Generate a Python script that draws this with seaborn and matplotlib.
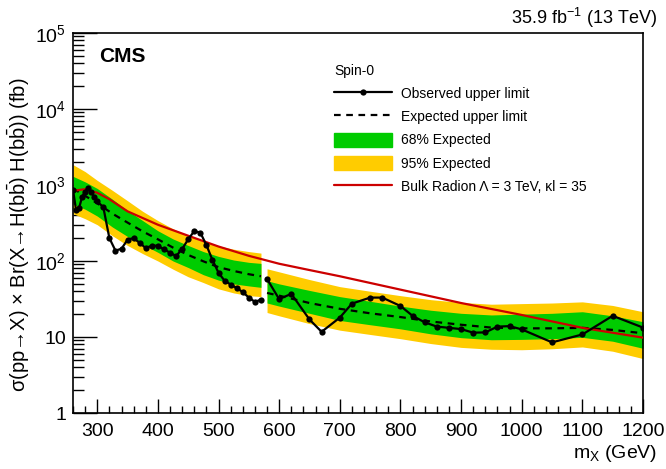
import numpy as np
import pandas as pd
import matplotlib
matplotlib.use("Agg")
import matplotlib.pyplot as plt
import seaborn as sns
from matplotlib.lines import Line2D
from matplotlib.patches import Patch
from matplotlib.ticker import MultipleLocator, LogLocator, NullFormatter

# ---------------- data ----------------
# Observed upper limit, low-mass segment
obs1_x = [260, 265, 270, 275, 280, 285, 290, 295, 300, 310, 320, 330, 340, 350, 360, 370, 380,
          390, 400, 410, 420, 430, 440, 450, 460, 470, 480, 490, 500, 510, 520, 530, 540, 550, 560, 570]
obs1_y = [870, 470, 495, 700, 820, 910, 800, 700, 610, 510, 200, 137, 145, 191, 200, 173, 148,
          159, 159, 142, 129, 116, 144, 193, 248, 236, 162, 103, 70, 55, 49, 44, 39, 33, 29, 31]
# Observed upper limit, high-mass segment
obs2_x = [580, 600, 620, 650, 670, 700, 720, 750, 770, 800, 820, 840, 860, 880, 900, 920, 940,
          960, 980, 1000, 1050, 1100, 1150, 1200]
obs2_y = [58, 31.5, 37, 17, 11.7, 18, 27.5, 33, 33, 25.6, 19, 15.6, 13.7, 13.2, 12.7, 11.4, 11.5,
          13.7, 13.9, 12.6, 8.5, 10.8, 19.0, 13.3]

# Expected limit and bands, low-mass segment
band1_x = [260, 280, 300, 325, 350, 375, 400, 425, 450, 475, 500, 525, 550, 570]
exp1 = [900, 720, 575, 420, 320, 245, 193, 150, 120, 99, 83, 74, 67, 63]
g_hi1 = [1300, 1100, 900, 650, 460, 340, 250, 195, 160, 133, 115, 103, 96, 93]
g_lo1 = [560, 480, 390, 280, 210, 165, 130, 100, 82, 66, 56, 50, 47, 45]
y_hi1 = [1850, 1500, 1150, 850, 620, 450, 340, 265, 215, 180, 158, 143, 133, 127]
y_lo1 = [420, 360, 300, 215, 160, 125, 100, 78, 62, 52, 43, 38, 35, 34]

# Expected limit and bands, high-mass segment
band2_x = [580, 600, 650, 700, 750, 800, 850, 900, 950, 1000, 1050, 1100, 1150, 1200]
exp2 = [38, 35, 28, 23.5, 20.5, 18.3, 16, 14.5, 13.3, 13, 13, 13.2, 12.4, 11.2]
g_hi2 = [55, 50, 41, 34, 29.5, 25.5, 22.5, 20.5, 19.5, 20, 20.5, 21.5, 19, 15.9]
g_lo2 = [28, 25.5, 20.5, 16.5, 14.5, 12.8, 11, 9.8, 9.2, 9.3, 9.5, 9.9, 8.8, 7.1]
y_hi2 = [79, 72, 57, 46, 40, 35, 31, 28.5, 27, 27.5, 28, 29, 26, 21.5]
y_lo2 = [21, 19, 15, 12.3, 10.8, 9.5, 8.2, 7.3, 6.9, 6.8, 7.0, 7.4, 6.5, 5.2]

# Bulk radion theory curve
radion_x = [260, 280, 300, 320, 350, 400, 450, 500, 550, 600, 650, 700, 800, 900, 1000, 1100, 1200]
radion_y = [840, 880, 790, 650, 450, 300, 215, 155, 117, 92, 76, 63, 42, 28, 19.5, 13.2, 9.8]

y_tick_vals = [1, 10, 100, 1e3, 1e4, 1e5]
y_tick_labels = ["1", "10", r"10$^{2}$", r"10$^{3}$", r"10$^{4}$", r"10$^{5}$"]
x_tick_vals = [300, 400, 500, 600, 700, 800, 900, 1000, 1100, 1200]

legend_labels = ["Observed upper limit", "Expected upper limit", "68% Expected",
                 "95% Expected", "Bulk Radion \u039b = 3 TeV, \u03bal = 35"]

# ---------------- style ----------------
sns.set_style("ticks")
plt.rcParams['font.family'] = ['Liberation Sans', 'DejaVu Sans']
plt.rcParams['mathtext.fontset'] = 'custom'
plt.rcParams['mathtext.rm'] = 'Liberation Sans'
plt.rcParams['mathtext.it'] = 'Liberation Sans:italic'
plt.rcParams['mathtext.bf'] = 'Liberation Sans:bold'
for k in ['text.color', 'axes.labelcolor', 'xtick.color', 'ytick.color', 'axes.edgecolor']:
    plt.rcParams[k] = 'black'

GREEN = "#00cc00"
YELLOW = "#ffcc00"
RED = "#cc0000"

fig = plt.figure(figsize=(6.66, 4.69), dpi=100)
ax = fig.add_axes([73 / 666, 1 - 413 / 469, 570 / 666, 380 / 469])
ax.set_yscale('log')

# bands
for bx, ylo, yhi, glo, ghi in [(band1_x, y_lo1, y_hi1, g_lo1, g_hi1),
                               (band2_x, y_lo2, y_hi2, g_lo2, g_hi2)]:
    ax.fill_between(bx, ylo, yhi, color=YELLOW, lw=0, zorder=1)
    ax.fill_between(bx, glo, ghi, color=GREEN, lw=0, zorder=2)

# expected
for bx, ex in [(band1_x, exp1), (band2_x, exp2)]:
    sns.lineplot(x=bx, y=ex, ax=ax, color="black", lw=1.6, estimator=None, sort=False, zorder=3)
    ax.lines[-1].set_dashes((3, 2.5))

# radion
sns.lineplot(x=radion_x, y=radion_y, ax=ax, color=RED, lw=1.6, estimator=None, sort=False, zorder=4)

# observed
for ox, oy in [(obs1_x, obs1_y), (obs2_x, obs2_y)]:
    sns.lineplot(x=ox, y=oy, ax=ax, color="black", lw=1.6, marker="o", markersize=4.5,
                 markeredgewidth=0, estimator=None, sort=False, zorder=5)

ax.set_xlim(260, 1200)
ax.set_ylim(1, 1e5)

# ticks
ax.set_xticks(x_tick_vals)
ax.xaxis.set_minor_locator(MultipleLocator(20))
ax.set_yticks(y_tick_vals)
ax.set_yticklabels(y_tick_labels)
ax.yaxis.set_minor_locator(LogLocator(base=10, subs=np.arange(2, 10)))
ax.yaxis.set_minor_formatter(NullFormatter())
ax.tick_params(axis='x', which='major', direction='in', length=10, width=1, labelsize=14, pad=7,
               top=False)
ax.tick_params(axis='x', which='minor', direction='in', length=5, width=1, top=False)
ax.tick_params(axis='y', which='major', direction='in', length=17, width=1, labelsize=14, pad=5,
               right=False)
ax.tick_params(axis='y', which='minor', direction='in', length=8, width=1, right=False)
for s in ax.spines.values():
    s.set_visible(True)
    s.set_linewidth(1.2)
    s.set_color("black")

ax.set_xlabel("")
ax.set_ylabel("\u03c3(pp\u2192X) \u00d7 Br(X\u2192H(b$\\bar{\\mathrm{b}}$) "
              "H(b$\\bar{\\mathrm{b}}$)) (fb)", fontsize=14.5)
ax.yaxis.set_label_coords(-0.072, 0.47)

fig.text(657 / 666, 1 - 453 / 469, r"m$_{\mathrm{X}}$ (GeV)", ha="right", va="center", fontsize=14)
fig.text(657 / 666, 1 - 18 / 469, r"35.9 fb$^{-1}$ (13 TeV)", ha="right", va="center", fontsize=13)
ax.text(99 / 666, 1 - 56 / 469, "CMS", transform=fig.transFigure, fontsize=15, fontweight="bold",
        ha="left", va="center")

# legend
handles = [Line2D([0], [0], color="black", lw=1.6, marker="o", markersize=4.5, markeredgewidth=0),
           Line2D([0], [0], color="black", lw=1.6, dashes=(3, 2.5)),
           Patch(facecolor=GREEN, edgecolor=GREEN),
           Patch(facecolor=YELLOW, edgecolor=YELLOW),
           Line2D([0], [0], color=RED, lw=1.6)]
leg = ax.legend(handles, legend_labels, title="Spin-0", loc="upper left",
                bbox_to_anchor=((334 - 73) / 570, (413 - 64) / 380), frameon=False,
                fontsize=10, title_fontsize=10, handlelength=4.2, handleheight=1.2,
                handletextpad=0.65, labelspacing=0.6, alignment="left", borderaxespad=0,
                borderpad=0)

fig.savefig("out.png", dpi=100)
